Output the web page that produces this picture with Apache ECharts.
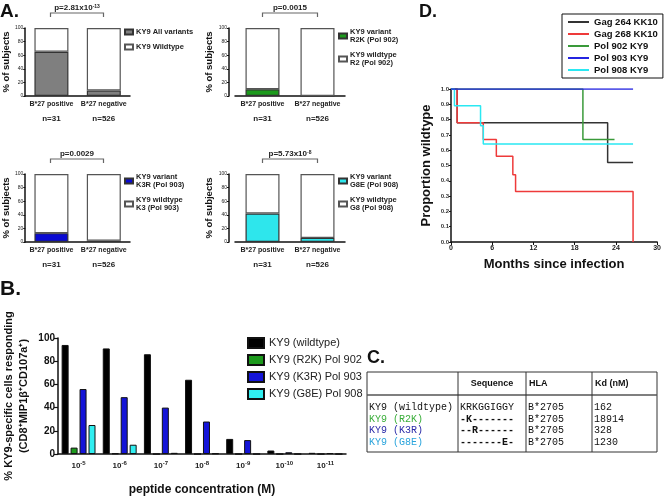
<!DOCTYPE html>
<html><head><meta charset="utf-8">
<script src="https://cdn.jsdelivr.net/npm/echarts@6/dist/echarts.min.js"></script>
<style>html,body{margin:0;padding:0;background:#fff}#c{width:664px;height:497px}</style>
</head><body><div id="c"></div>
<script>
const FONT = 'Liberation Sans, Arial, sans-serif';
const MONO = 'Liberation Mono, Courier New, monospace';

// ---- Panel A data ----
const aCategories = ['B*27 positive', 'B*27 negative'];
const aCounts = ['n=31', 'n=526'];
const aVariantNames = ['KY9 All variants', 'KY9 variant\nR2K (Pol 902)', 'KY9 variant\nK3R (Pol 903)', 'KY9 variant\nG8E (Pol 908)'];
const aWildNames = ['KY9 Wildtype', 'KY9 wildtype\nR2 (Pol 902)', 'KY9 wildtype\nK3 (Pol 903)', 'KY9 wildtype\nG8 (Pol 908)'];
const aVariantPct = [[65, 8], [10, 0], [13, 2], [42, 6]];
const aPValues = ['p=2.81x10{s|-13}', 'p=0.0015', 'p=0.0029', 'p=5.73x10{s|-8}'];
const aColors = ['#7f7f7f', '#1c9a1c', '#0a0ad2', '#2ee6ec'];

// ---- Panel B data ----
const bConcExp = ['-5', '-6', '-7', '-8', '-9', '-10', '-11'];
const bSeriesNames = ['KY9 (wildtype)', 'KY9 (R2K) Pol 902', 'KY9 (K3R) Pol 903', 'KY9 (G8E) Pol 908'];
const bWild = [94, 91, 86, 64, 13, 3, 1];
const bR2K = [5.5, 0.5, 0, 0, 0, 0, 0];
const bK3R = [56, 49, 40, 28, 12, 1.5, 0.8];
const bG8E = [25, 8, 1, 0.5, 0, 0, 0];
const bColors = ['#000000', '#1c9a1c', '#1414d8', '#30eef0'];

// ---- Panel C data ----
const cHeaders = ['', 'Sequence', 'HLA', 'Kd (nM)'];
const cNames = ['KY9 (wildtype)', 'KY9 (R2K)', 'KY9 (K3R)', 'KY9 (G8E)'];
const cSeqs = ['KRKGGIGGY', '-K-------', '--R------', '-------E-'];
const cHLA = ['B*2705', 'B*2705', 'B*2705', 'B*2705'];
const cKd = ['162', '18914', '328', '1230'];
const cColors = ['#111111', '#3aae3a', '#2a2aa8', '#2aa4dc'];

// ---- Panel D data ----
const dNames = ['Gag 264 KK10', 'Gag 268 KK10', 'Pol 902 KY9', 'Pol 903 KY9', 'Pol 908 KY9'];
const dColors = ['#333333', '#ee3a3a', '#3a9a3a', '#2424e0', '#2ae8f2'];
const dGag264 = [[0, 1], [0.9, 0.78], [22.8, 0.52], [26.5, 0.52]];
const dGag268 = [[0, 1], [0.9, 0.78], [4.7, 0.67], [6.6, 0.56], [9.0, 0.44], [9.4, 0.33], [26.5, 0]];
const dPol902 = [[0, 1], [19.2, 0.67], [23.8, 0.67]];
const dPol903 = [[0, 1], [26.5, 1]];
const dPol908 = [[0, 1], [0.5, 0.89], [4.3, 0.76], [4.7, 0.64], [26.5, 0.64]];
const dSeries = [dGag264, dGag268, dPol902, dPol903, dPol908];
const dZ = [2, 3, 4, 6, 5];

// ---- layout ----
const aGrids = [
  {left: 24, top: 28, width: 106, height: 68, off: 0, gap: 12},
  {left: 235, top: 28, width: 110, height: 68, off: 6, gap: 7},
  {left: 24, top: 174, width: 106, height: 68, off: 0, gap: 12},
  {left: 235, top: 174, width: 110, height: 68, off: 6, gap: 7}
];
const aLegendPos = [[124, 28], [338, 28], [124, 173], [338, 173]];

const grid = [], xAxis = [], yAxis = [], series = [], legend = [], graphic = [];
const axisLineStyle = {color: '#111', width: 1.5};

aGrids.forEach((g, i) => {
  grid.push({left: g.left, top: g.top, width: g.width, height: g.height});
  xAxis.push({
    type: 'category', gridIndex: i, data: aCategories,
    axisLine: {lineStyle: axisLineStyle},
    axisTick: {alignWithLabel: true, length: 3, lineStyle: {color: '#111'}},
    axisLabel: {
      margin: 3, interval: 0,
      formatter: (v, idx) => '{c|' + v + '}\n{n|' + aCounts[idx] + '}',
      rich: {
        c: {fontSize: 7, fontWeight: 'bold', fontFamily: FONT, color: '#222', lineHeight: 10},
        n: {fontSize: 8, fontWeight: 'bold', fontFamily: FONT, color: '#222', lineHeight: 20}
      }
    }
  });
  yAxis.push({
    type: 'value', gridIndex: i, min: 0, max: 100, interval: 20, offset: g.off,
    axisLine: {show: true, lineStyle: axisLineStyle},
    axisTick: {show: true, length: 2, lineStyle: {color: '#111'}},
    splitLine: {show: false},
    axisLabel: {fontSize: 5, margin: 2, color: '#222', fontFamily: FONT},
    name: '% of subjects', nameLocation: 'middle', nameGap: g.gap,
    nameTextStyle: {fontSize: 9.5, fontWeight: 'bold', fontFamily: FONT, color: '#111'}
  });
  series.push({
    type: 'bar', name: aVariantNames[i], xAxisIndex: i, yAxisIndex: i, stack: 'a' + i,
    data: aVariantPct[i], barWidth: 34,
    itemStyle: {color: aColors[i], borderColor: '#333', borderWidth: 1.2}
  });
  series.push({
    type: 'bar', name: aWildNames[i], xAxisIndex: i, yAxisIndex: i, stack: 'a' + i,
    data: aVariantPct[i].map(v => 100 - v), barWidth: 34,
    itemStyle: {color: '#ffffff', borderColor: '#555', borderWidth: 1.2}
  });
  legend.push({
    left: aLegendPos[i][0], top: aLegendPos[i][1], orient: 'vertical',
    data: [aVariantNames[i], aWildNames[i]], selectedMode: false,
    icon: 'rect', itemWidth: 8, itemHeight: 5, itemGap: 7, padding: 0,
    textStyle: {fontSize: 7.5, fontWeight: 'bold', fontFamily: FONT, color: '#222', lineHeight: 8, padding: [0, 0, 0, -2]}
  });
  // p-value bracket
  const x1 = g.left + g.width * 0.25, x2 = g.left + g.width * 0.75;
  const by = g.top - 15;
  graphic.push({type: 'polyline', shape: {points: [[x1, by + 4], [x1, by], [x2, by], [x2, by + 4]]},
    style: {stroke: '#666', lineWidth: 1.2, fill: null}});
  graphic.push({type: 'text', x: (x1 + x2) / 2, y: by - 9,
    style: {text: aPValues[i], align: 'center', font: 'bold 8px ' + FONT, fill: '#222',
      rich: {s: {fontSize: 5, fontWeight: 'bold', fontFamily: FONT, verticalAlign: 'top', lineHeight: 6, padding: [0, 0, 4, 0]}}}});
});

// ---- Panel B ----
grid.push({left: 57, top: 338, width: 289, height: 119});
xAxis.push({
  type: 'category', gridIndex: 4, data: bConcExp,
  axisLine: {lineStyle: axisLineStyle},
  axisTick: {alignWithLabel: true, length: 3, lineStyle: {color: '#111'}},
  axisLabel: {
    margin: 6, interval: 0,
    formatter: v => '{b|10}{s|' + v + '}',
    rich: {
      b: {fontSize: 8, fontWeight: 'bold', fontFamily: FONT, color: '#222', lineHeight: 12},
      s: {fontSize: 6, fontWeight: 'bold', fontFamily: FONT, color: '#222', verticalAlign: 'top', lineHeight: 7}
    }
  },
  name: 'peptide concentration (M)', nameLocation: 'middle', nameGap: 30,
  nameTextStyle: {fontSize: 12, fontWeight: 'bold', fontFamily: FONT, color: '#111'}
});
yAxis.push({
  type: 'value', gridIndex: 4, min: 0, max: 100, interval: 20,
  axisLine: {show: true, lineStyle: axisLineStyle},
  axisTick: {show: true, length: 4, lineStyle: {color: '#111', width: 1.2}},
  splitLine: {show: false},
  axisLabel: {fontSize: 10, fontWeight: 'bold', margin: 3, color: '#111', fontFamily: FONT},
  name: '% KY9-specific cells responding\n(CD8\u207AMIP1\u03B2\u207ACD107a\u207A)',
  nameLocation: 'middle', nameGap: 27,
  nameTextStyle: {fontSize: 11, fontWeight: 'bold', fontFamily: FONT, color: '#111', lineHeight: 15}
});
[bWild, bR2K, bK3R, bG8E].forEach((d, k) => {
  series.push({
    type: 'bar', name: bSeriesNames[k], xAxisIndex: 4, yAxisIndex: 4, data: d,
    barWidth: 7, barGap: '28%',
    itemStyle: {color: bColors[k], borderColor: '#111', borderWidth: 1}
  });
});
legend.push({
  left: 247, top: 337, orient: 'vertical', data: bSeriesNames, selectedMode: false,
  icon: 'rect', itemWidth: 16, itemHeight: 10, itemGap: 5, padding: 0,
  textStyle: {fontSize: 11, fontFamily: FONT, color: '#222'}
});

// ---- Panel D ----
grid.push({left: 451, top: 89, width: 208, height: 153});
xAxis.push({
  type: 'value', gridIndex: 5, min: 0, max: 30, interval: 6,
  axisLine: {show: true, onZero: false, lineStyle: axisLineStyle},
  axisTick: {show: true, length: 3, lineStyle: {color: '#111'}},
  splitLine: {show: false},
  axisLabel: {fontSize: 7, fontWeight: 'bold', margin: 3, color: '#222', fontFamily: FONT},
  name: 'Months since infection', nameLocation: 'middle', nameGap: 16,
  nameTextStyle: {fontSize: 13, fontWeight: 'bold', fontFamily: FONT, color: '#111'}
});
yAxis.push({
  type: 'value', gridIndex: 5, min: 0, max: 1, interval: 0.1,
  axisLine: {show: true, onZero: false, lineStyle: axisLineStyle},
  axisTick: {show: true, length: 2, lineStyle: {color: '#111'}},
  splitLine: {show: false},
  axisLabel: {fontSize: 6, fontWeight: 'bold', margin: 2, color: '#333', fontFamily: FONT, formatter: v => v.toFixed(1)},
  name: 'Proportion wildtype', nameLocation: 'middle', nameGap: 18,
  nameTextStyle: {fontSize: 13, fontWeight: 'bold', fontFamily: FONT, color: '#111'}
});
dSeries.forEach((d, k) => {
  series.push({
    type: 'line', name: dNames[k], xAxisIndex: 5, yAxisIndex: 5, data: d,
    step: 'end', symbol: 'none', z: dZ[k],
    lineStyle: {color: dColors[k], width: 1.5}, itemStyle: {color: dColors[k]}
  });
});
legend.push({
  left: 562, top: 14, width: 99, orient: 'vertical', data: dNames, selectedMode: false,
  icon: 'rect', itemWidth: 21, itemHeight: 2, itemGap: 2,
  padding: [3, 5, 3, 6], borderColor: '#111', borderWidth: 1,
  textStyle: {fontSize: 9.5, fontWeight: 'bold', fontFamily: FONT, color: '#111', lineHeight: 10}
});

// ---- Panel labels ----
[['A.', 0, 2, 19], ['B.', 0, 279, 21], ['C.', 367, 349, 18], ['D.', 419, 3, 18]].forEach(p => {
  graphic.push({type: 'text', x: p[1], y: p[2], style: {text: p[0], font: 'bold ' + p[3] + 'px ' + FONT, fill: '#111'}});
});

// ---- Panel C table ----
const tL = 367, tT = 372, tR = 657, tB = 452, tH = 395;
const colX = [367, 458, 526, 592, 657];
const rowY = [407, 419, 430, 442];
graphic.push({type: 'rect', shape: {x: tL, y: tT, width: tR - tL, height: tB - tT}, style: {fill: null, stroke: '#333', lineWidth: 1}});
graphic.push({type: 'line', shape: {x1: tL, y1: tH, x2: tR, y2: tH}, style: {stroke: '#555', lineWidth: 1.6}});
colX.slice(1, 4).forEach(x => graphic.push({type: 'line', shape: {x1: x, y1: tT, x2: x, y2: tB}, style: {stroke: '#333', lineWidth: 1}}));
cHeaders.forEach((h, j) => {
  if (!h) return;
  const centered = j === 1;
  graphic.push({type: 'text', x: centered ? (colX[j] + colX[j + 1]) / 2 : colX[j] + 3, y: (tT + tH) / 2,
    style: {text: h, align: centered ? 'center' : 'left', verticalAlign: 'middle', font: 'bold 9px ' + FONT, fill: '#111'}});
});
cNames.forEach((n, r) => {
  const cells = [n, cSeqs[r], cHLA[r], cKd[r]];
  cells.forEach((t, j) => {
    const color = j === 0 ? cColors[r] : '#111';
    const bold = j === 1 && r > 0;
    graphic.push({type: 'text', x: colX[j] + 2, y: rowY[r],
      style: {text: t, verticalAlign: 'middle', font: (bold ? 'bold ' : '') + '10px ' + MONO, fill: color}});
  });
});

const chart = echarts.init(document.getElementById('c'), null, {renderer: 'canvas'});
chart.setOption({
  animation: false, backgroundColor: '#ffffff',
  textStyle: {fontFamily: FONT},
  grid, xAxis, yAxis, series, legend, graphic
});
</script></body></html>
